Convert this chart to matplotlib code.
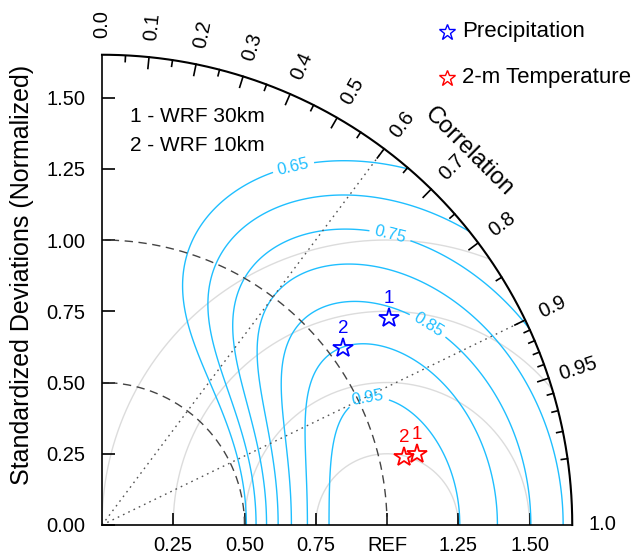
import numpy as np
import matplotlib
matplotlib.use("Agg")
import matplotlib.pyplot as plt

plt.rcParams['font.family'] = ['Liberation Sans', 'DejaVu Sans']

##############################################################################
# data
variables = ['Precipitation', '2-m Temperature']
var_colors = ['#0000ff', '#ff0000']
case_ids = ['1', '2']
case_names = ['WRF 30km', 'WRF 10km']
std_ratio = [[1.242, 1.051],      # precipitation: case 1, case 2
             [1.132, 1.086]]      # 2-m temperature
corr_coef = [[0.811, 0.806],
             [0.9755, 0.9758]]

skill_plain = [0.70, 0.80, 0.90]
skill_labeled = [0.65, 0.75, 0.85, 0.95]
rms_circles = [0.25, 0.50, 0.75, 1.00]
std_arcs = [0.5, 1.0]
corr_lines = [0.6, 0.9]
corr_major = [0.0, 0.1, 0.2, 0.3, 0.4, 0.5, 0.6, 0.7, 0.8, 0.9, 0.95, 1.0]
corr_minor = [0.05, 0.15, 0.25, 0.35, 0.45, 0.55, 0.65, 0.75, 0.85,
              0.91, 0.92, 0.93, 0.94, 0.96, 0.97, 0.98, 0.99]
std_ticks = [0.0, 0.25, 0.50, 0.75, 1.00, 1.25, 1.50]
x_ticks = [0.25, 0.50, 0.75, 1.00, 1.25, 1.50]
x_ticklabels = ['0.25', '0.50', '0.75', 'REF', '1.25', '1.50']
smax = 1.65

##############################################################################
# settings
fontsize = 14.5
cyan = '#1fbfff'

fig = plt.figure(figsize=(6.34, 5.58), dpi=100)
ax = fig.add_axes([102/634., 33/558., smax*285/634., smax*285/558.])
ax.set_xlim(0, smax)
ax.set_ylim(0, smax)

for s in ['top', 'right']:
    ax.spines[s].set_visible(False)
ax.spines['left'].set_bounds(0, smax)
ax.spines['bottom'].set_bounds(0, smax)
for s in ['left', 'bottom']:
    ax.spines[s].set_linewidth(1.2)

ax.set_yticks(std_ticks)
ax.set_yticklabels(['%.2f' % v for v in std_ticks])
ax.set_xticks(x_ticks)
ax.set_xticklabels(x_ticklabels)
ax.tick_params(direction='in', length=9, width=1.2, labelsize=fontsize, pad=12)
ax.tick_params(axis='x', pad=8)

ax.text(-0.28, 0.877, 'Standardized Deviations (Normalized)', rotation=90,
        ha='center', va='center', fontsize=18, clip_on=False)

# skill score contours
r = np.linspace(0.005, smax, 400)
th = np.linspace(0, np.pi/2, 400)
R, TH = np.meshgrid(r, th)
X = R*np.cos(TH)
Y = R*np.sin(TH)
S = 2*(1 + np.cos(TH))/(R + 1/R)**2
ax.contour(X, Y, S, levels=skill_plain, colors=cyan, linewidths=1.0)
cs = ax.contour(X, Y, S, levels=skill_labeled, colors=cyan, linewidths=1.0)
label_pos = [(0.67, 1.263), (1.011, 1.018), (1.14, 0.695), (0.933, 0.449)]
ax.clabel(cs, manual=label_pos, fmt='%.2f', inline=True, inline_spacing=5,
          fontsize=12, colors=cyan)

# centred RMS circles around REF
t = np.linspace(0, np.pi, 600)
for rc in rms_circles:
    cx = 1 + rc*np.cos(t)
    cy = rc*np.sin(t)
    bad = (np.hypot(cx, cy) > smax) | (cx < 0)
    cx[bad] = np.nan
    cy[bad] = np.nan
    ax.plot(cx, cy, color='#dcdcdc', lw=1.0, zorder=1)

# std dev arcs
a = np.linspace(0, np.pi/2, 300)
for sa in std_arcs:
    ax.plot(sa*np.cos(a), sa*np.sin(a), color='#444444', lw=1.0,
            dashes=(6, 4), zorder=2)

# correlation lines
for c in corr_lines:
    ang = np.arccos(c)
    ax.plot([0, smax*np.cos(ang)], [0, smax*np.sin(ang)], color='#555555',
            lw=1.0, dashes=(1.2, 3), zorder=2)

# outer arc, ticks and labels
ax.plot(smax*np.cos(a), smax*np.sin(a), color='k', lw=1.5, clip_on=False)
for c in corr_major:
    ang = np.arccos(c)
    if 0 < c < 1:
        ax.plot([smax*np.cos(ang), (smax-0.04)*np.cos(ang)],
                [smax*np.sin(ang), (smax-0.04)*np.sin(ang)], color='k', lw=1.2)
    lab = '%.2f' % c if c == 0.95 else '%.1f' % c
    ax.text(1.757*np.cos(ang), 1.757*np.sin(ang), lab, rotation=np.degrees(ang),
            rotation_mode='anchor', ha='center', va='center',
            fontsize=fontsize, clip_on=False)
for c in corr_minor:
    ang = np.arccos(c)
    ax.plot([smax*np.cos(ang), (smax-0.022)*np.cos(ang)],
            [smax*np.sin(ang), (smax-0.022)*np.sin(ang)], color='k', lw=1.2)
ang = np.radians(45.5)
ax.text(1.835*np.cos(ang), 1.835*np.sin(ang), 'Correlation', rotation=-45,
        rotation_mode='anchor', ha='center', va='center', fontsize=17,
        clip_on=False)

# model points
for i, var in enumerate(variables):
    for j, cid in enumerate(case_ids):
        ang = np.arccos(corr_coef[i][j])
        px = std_ratio[i][j]*np.cos(ang)
        py = std_ratio[i][j]*np.sin(ang)
        ax.plot(px, py, marker='*', ms=15, mfc='none', mec=var_colors[i],
                mew=1.3, zorder=5)
        ax.text(px, py + 0.068, cid, color=var_colors[i], ha='center',
                va='center', fontsize=13.5, zorder=5)

# case key
for j, cid in enumerate(case_ids):
    ax.text(130/634., 1 - (117 + 28*j)/558., '%s - %s' % (cid, case_names[j]),
            transform=fig.transFigure, ha='left', va='center', fontsize=15)

# legend
for i, var in enumerate(variables):
    yy = 1 - (32 + 46*i)/558.
    fig.lines.append(plt.Line2D([447/634.], [yy], transform=fig.transFigure,
                                marker='*', ms=12, mfc='none',
                                mec=var_colors[i], mew=1.0, ls='none'))
    fig.text(462/634., yy, var, ha='left', va='center', fontsize=16)

fig.savefig('out.png', dpi=100)
